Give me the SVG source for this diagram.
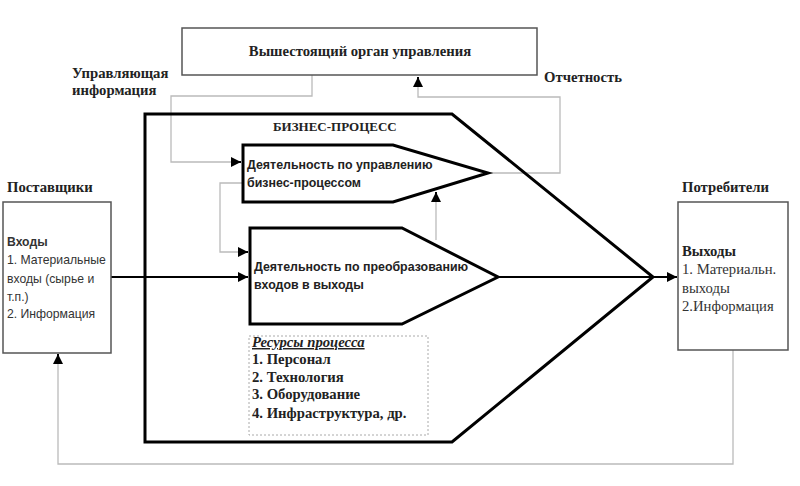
<svg xmlns="http://www.w3.org/2000/svg" width="800" height="486" viewBox="0 0 800 486">
<defs>
<style>
.box{fill:#fff;stroke:#555;stroke-width:1.5}
.thick{fill:none;stroke:#000;stroke-width:3;stroke-linejoin:miter}
.grey{fill:none;stroke:#bbb;stroke-width:1.3}
.blk{fill:none;stroke:#000;stroke-width:2}
.ser{font-family:"Liberation Serif","Times New Roman",serif;font-weight:bold;font-size:14.7px;fill:#222}
.ser2{font-family:"Liberation Serif","Times New Roman",serif;font-size:14.7px;fill:#333}
.sans{font-family:"Liberation Sans",Arial,sans-serif;font-size:12.2px;fill:#333}
.sansb{font-family:"Liberation Sans",Arial,sans-serif;font-weight:bold;font-size:12.4px;fill:#222}
</style>
<marker id="ah" markerUnits="userSpaceOnUse" markerWidth="12" markerHeight="10" refX="10" refY="5" orient="auto">
<path d="M0,0 L10,5 L0,10 Z" fill="#000"/>
</marker>
</defs>
<rect width="800" height="486" fill="#fff"/>

<g id="connectors">
<polyline class="grey" points="312,75 312,96 171,96 171,162 234,162"/>
<path d="M232,162 L241,162" class="blk" marker-end="url(#ah)"/>
<polyline class="grey" points="490,173 560,173 560,97 418,97 418,84"/>
<path d="M418,86 L418,77" class="blk" marker-end="url(#ah)"/>
<polyline class="grey" points="243,183 220,183 220,252 240,252"/>
<path d="M238,252 L248,252" class="blk" marker-end="url(#ah)"/>
<polyline class="grey" points="436,240 436,200"/>
<path d="M436,202 L436,192" class="blk" marker-end="url(#ah)"/>
<path d="M111,277 L248,277" class="blk" marker-end="url(#ah)"/>
<path d="M498,277 L653,277" class="blk"/>
<path d="M653,277 L677,277" class="blk" marker-end="url(#ah)"/>
<polyline class="grey" points="733,350 733,464 58,464 58,362"/>
<path d="M58,364 L58,354" class="blk" marker-end="url(#ah)"/>
</g>

<g id="top-organ">
<rect class="box" x="182" y="28" width="355" height="47"/>
<text class="ser" x="360" y="56" text-anchor="middle">Вышестоящий орган управления</text>
</g>

<g id="label-control">
<text class="ser" x="72" y="78">Управляющая</text>
<text class="ser" x="72" y="95">информация</text>
</g>

<g id="label-report">
<text class="ser" x="544" y="82">Отчетность</text>
</g>

<g id="business-process">
<path class="thick" d="M145,114 L452,114 L653,277 L452,442 L145,442 Z"/>
<text class="ser" x="273" y="131" style="font-size:13px">БИЗНЕС-ПРОЦЕСС</text>
</g>

<g id="management-activity">
<path class="thick" d="M243,145 L393,145 L488,173 L393,202 L243,202 Z"/>
<text class="sansb" x="247" y="169">Деятельность по управлению</text>
<text class="sansb" x="247" y="187">бизнес-процессом</text>
</g>

<g id="transform-activity">
<path class="thick" d="M250,228 L402,228 L498,277 L402,324 L250,324 Z"/>
<text class="sansb" x="254" y="271">Деятельность по преобразованию</text>
<text class="sansb" x="254" y="289">входов в выходы</text>
</g>

<g id="resources">
<rect x="249" y="336" width="179" height="99" fill="none" stroke="#aaa" stroke-width="1" stroke-dasharray="2,2"/>
<text class="ser" x="252" y="347" font-style="italic" text-decoration="underline">Ресурсы процесса</text>
<text class="ser" x="252" y="364">1. Персонал</text>
<text class="ser" x="252" y="382">2. Технология</text>
<text class="ser" x="252" y="399">3. Оборудование</text>
<text class="ser" x="252" y="418">4. Инфраструктура, др.</text>
</g>

<g id="suppliers">
<text class="ser" x="7" y="192">Поставщики</text>
<rect class="box" x="3" y="202" width="108" height="151"/>
<text class="sans" x="7" y="246" font-weight="bold">Входы</text>
<text class="sans" x="7" y="264">1. Материальные</text>
<text class="sans" x="7" y="283">входы (сырье и</text>
<text class="sans" x="7" y="301">т.п.)</text>
<text class="sans" x="7" y="318">2. Информация</text>
</g>

<g id="consumers">
<text class="ser" x="682" y="192">Потребители</text>
<rect class="box" x="678" y="202" width="110" height="148"/>
<text class="ser" x="682" y="256">Выходы</text>
<text class="ser2" x="682" y="274">1. Материальн.</text>
<text class="ser2" x="682" y="293">выходы</text>
<text class="ser2" x="682" y="311">2.Информация</text>
</g>
</svg>
